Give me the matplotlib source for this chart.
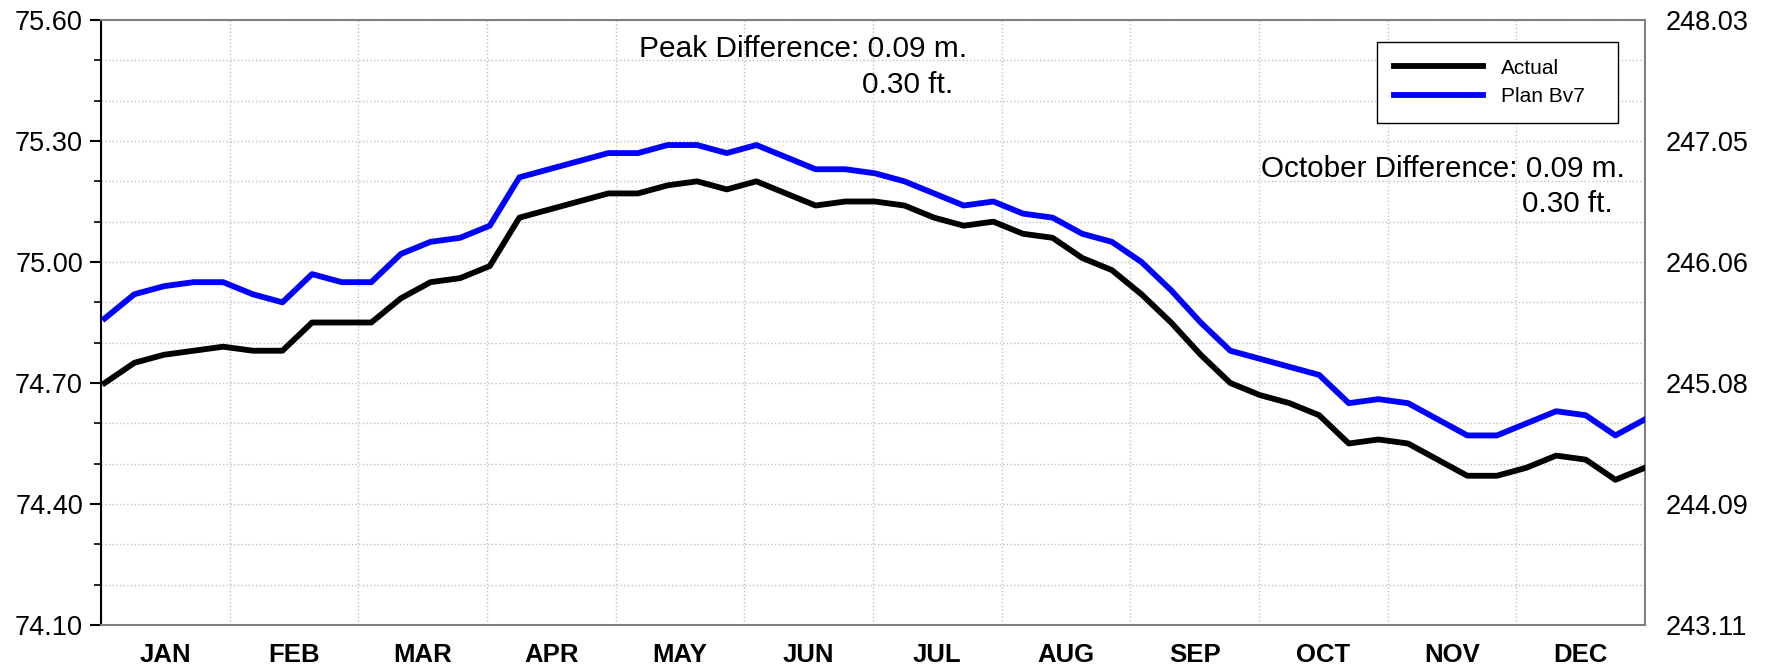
import numpy as np
import matplotlib.pyplot as plt

plt.rcParams['font.family'] = ['Liberation Sans', 'DejaVu Sans']

# weekly elevations (m)
actual = [74.70, 74.75, 74.77, 74.78, 74.79, 74.78, 74.78, 74.85, 74.85, 74.85,
          74.91, 74.95, 74.96, 74.99, 75.11, 75.13, 75.15, 75.17, 75.17, 75.19,
          75.20, 75.18, 75.20, 75.17, 75.14, 75.15, 75.15, 75.14, 75.11, 75.09,
          75.10, 75.07, 75.06, 75.01, 74.98, 74.92, 74.85, 74.77, 74.70, 74.67,
          74.65, 74.62, 74.55, 74.56, 74.55, 74.51, 74.47, 74.47, 74.49, 74.52,
          74.51, 74.46, 74.49]
plan = [74.86, 74.92, 74.94, 74.95, 74.95, 74.92, 74.90, 74.97, 74.95, 74.95,
        75.02, 75.05, 75.06, 75.09, 75.21, 75.23, 75.25, 75.27, 75.27, 75.29,
        75.29, 75.27, 75.29, 75.26, 75.23, 75.23, 75.22, 75.20, 75.17, 75.14,
        75.15, 75.12, 75.11, 75.07, 75.05, 75.00, 74.93, 74.85, 74.78, 74.76,
        74.74, 74.72, 74.65, 74.66, 74.65, 74.61, 74.57, 74.57, 74.60, 74.63,
        74.62, 74.57, 74.61]
weeks = np.arange(len(actual))

months = ['JAN', 'FEB', 'MAR', 'APR', 'MAY', 'JUN',
          'JUL', 'AUG', 'SEP', 'OCT', 'NOV', 'DEC']
m_ticks = [74.10, 74.40, 74.70, 75.00, 75.30, 75.60]
m_labels = ['74.10', '74.40', '74.70', '75.00', '75.30', '75.60']
ft_labels = ['243.11', '244.09', '245.08', '246.06', '247.05', '248.03']

W, H = 1766, 672
fig = plt.figure(figsize=(W / 100, H / 100), dpi=100)
ax = fig.add_axes([101 / W, 47 / H, 1544 / W, 605 / H])

x0, x1 = -0.125, len(actual) - 1
ax.set_xlim(x0, x1)
ax.set_ylim(74.10, 75.60)

# month grid / labels
bounds = np.linspace(x0, x1, 13)
centers = (bounds[:-1] + bounds[1:]) / 2
ax.set_xticks(bounds)
ax.set_xticklabels([])
ax.set_xticks(centers, minor=True)
ax.set_xticklabels(months, minor=True, fontsize=18.5, fontweight='bold')
ax.tick_params(axis='x', which='both', length=0)
ax.tick_params(axis='x', which='minor', pad=13)
ax.grid(axis='x', which='major', color='#c0c0c0', linestyle=':', linewidth=1.0)

ax.set_yticks(m_ticks)
ax.set_yticklabels(m_labels, fontsize=19.5)
ax.set_yticks(np.arange(74.10, 75.61, 0.10), minor=True)
ax.tick_params(axis='y', which='major', length=8, width=1.5, pad=5)
ax.tick_params(axis='y', which='minor', length=5, width=1.2)
ax.grid(axis='y', which='both', color='#c0c0c0', linestyle=':', linewidth=1.0)
ax.set_axisbelow(True)

ax.plot(weeks, actual, color='black', lw=4.2, label='Actual', zorder=3)
ax.plot(weeks, plan, color='#0000ff', lw=4.2, label='Plan Bv7', zorder=3)

for s in ['top', 'right', 'bottom']:
    ax.spines[s].set_color('#808080')
    ax.spines[s].set_linewidth(1.5)
ax.spines['left'].set_color('black')
ax.spines['left'].set_linewidth(1.5)

# right axis in feet
ax2 = ax.twinx()
ax2.set_ylim(ax.get_ylim())
ax2.set_yticks(m_ticks)
ax2.set_yticklabels(ft_labels, fontsize=19.5)
ax2.tick_params(axis='y', length=0, pad=15)
for s in ax2.spines.values():
    s.set_visible(False)

leg = ax.legend(loc='upper left', bbox_to_anchor=(0.8264, 0.0, 0.1561, 0.9636),
                mode='expand', borderaxespad=0, fontsize=15, handlelength=4.3,
                handletextpad=0.85, labelspacing=0.45, borderpad=0.8,
                fancybox=False, framealpha=1, edgecolor='black')
leg.get_frame().set_linewidth(1.0)

# difference notes
def px(x, y):
    return x / W, 1 - y / H

fig.text(*px(639, 57.3), 'Peak Difference: 0.09 m.', fontsize=21.5, va='baseline')
fig.text(*px(862, 93.3), '0.30 ft.', fontsize=21.5, va='baseline')
fig.text(*px(1261, 177.3), 'October Difference: 0.09 m.', fontsize=21.3, va='baseline')
fig.text(*px(1522, 211.7), '0.30 ft.', fontsize=21.3, va='baseline')

fig.savefig('out.png', dpi=100)
